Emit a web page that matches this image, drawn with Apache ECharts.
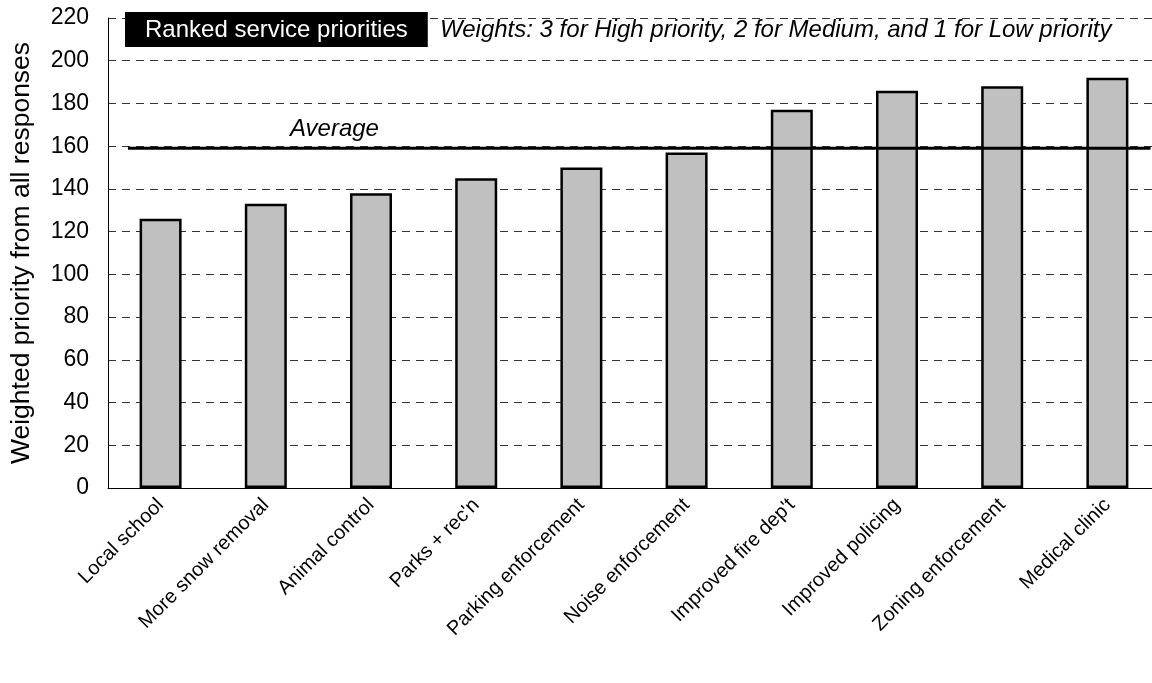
<!DOCTYPE html>
<html>
<head>
<meta charset="utf-8">
<script src="https://cdn.jsdelivr.net/npm/echarts@6/dist/echarts.min.js"></script>
<style>
  html, body { margin: 0; padding: 0; background: #fff; overflow: hidden; }
  #chart { width: 1160px; height: 683px; }
</style>
</head>
<body>
<div id="chart"></div>
<script>
const categories = ['Local school', 'More snow removal', 'Animal control', 'Parks + rec\'n', 'Parking enforcement', 'Noise enforcement', 'Improved fire dep\'t', 'Improved policing', 'Zoning enforcement', 'Medical clinic'];
const priorityValues = [126, 133, 138, 145, 150, 157, 177, 186, 188, 192];
const averageValue = 159;
const yTicks = [0, 20, 40, 60, 80, 100, 120, 140, 160, 180, 200, 220];
const titleText = 'Ranked service priorities';
const noteText = 'Weights: 3 for High priority, 2 for Medium, and 1 for Low priority';
const yAxisName = 'Weighted priority from all responses';

// layout of the average line span in category units (decoration only)
const avgSpan = [0.19, 9.91];

const FONT = '"Liberation Sans", Arial, sans-serif';
const chart = echarts.init(document.getElementById('chart'));
chart.setOption({
  animation: false,
  backgroundColor: '#fff',
  textStyle: { fontFamily: FONT },
  title: [
    {
      text: titleText, left: 125, top: 12,
      backgroundColor: '#000', padding: [6, 20, 5, 20],
      textStyle: { color: '#fff', fontSize: 24, fontWeight: 'normal', fontFamily: FONT, lineHeight: 24 }
    },
    {
      text: noteText, left: 440, top: 17, padding: 0,
      textStyle: { color: '#000', fontSize: 24, fontStyle: 'italic', fontWeight: 'normal', fontFamily: FONT, lineHeight: 26 }
    },
    {
      text: 'Average', left: 290, top: 116, padding: 0,
      textStyle: { color: '#000', fontSize: 24, fontStyle: 'italic', fontWeight: 'normal', fontFamily: FONT, lineHeight: 26 }
    }
  ],
  grid: { left: 104, top: 18, right: 0, bottom: 195, containLabel: false },
  xAxis: [
    {
      type: 'category', data: categories,
      axisLine: { lineStyle: { color: '#000', width: 1 } },
      axisTick: { show: false },
      axisLabel: { rotate: 45, color: '#000', fontSize: 20, fontFamily: FONT, margin: 14, interval: 0 }
    },
    {
      type: 'value', min: 0, max: categories.length, show: false
    }
  ],
  yAxis: {
    type: 'value', min: yTicks[0], max: yTicks[yTicks.length - 1], interval: 20,
    name: yAxisName, nameLocation: 'middle', nameGap: 73,
    nameTextStyle: { color: '#000', fontSize: 26.5, fontFamily: FONT },
    axisLine: { show: true, lineStyle: { color: '#000', width: 1 } },
    axisTick: { show: false },
    axisLabel: { color: '#000', fontSize: 23, fontFamily: FONT, margin: 19 },
    splitLine: { show: true, lineStyle: { color: '#333', width: 1, type: [8, 6] } }
  },
  series: [
    {
      type: 'bar', data: priorityValues, xAxisIndex: 0, barWidth: 42,
      itemStyle: { color: '#c0c0c0', borderColor: '#000', borderWidth: 2.5 },
      z: 2
    },
    {
      type: 'line', xAxisIndex: 1, symbol: 'none',
      data: [[avgSpan[0], averageValue], [avgSpan[1], averageValue]],
      lineStyle: { color: '#000', width: 3 },
      z: 3
    }
  ]
});
</script>
</body>
</html>
